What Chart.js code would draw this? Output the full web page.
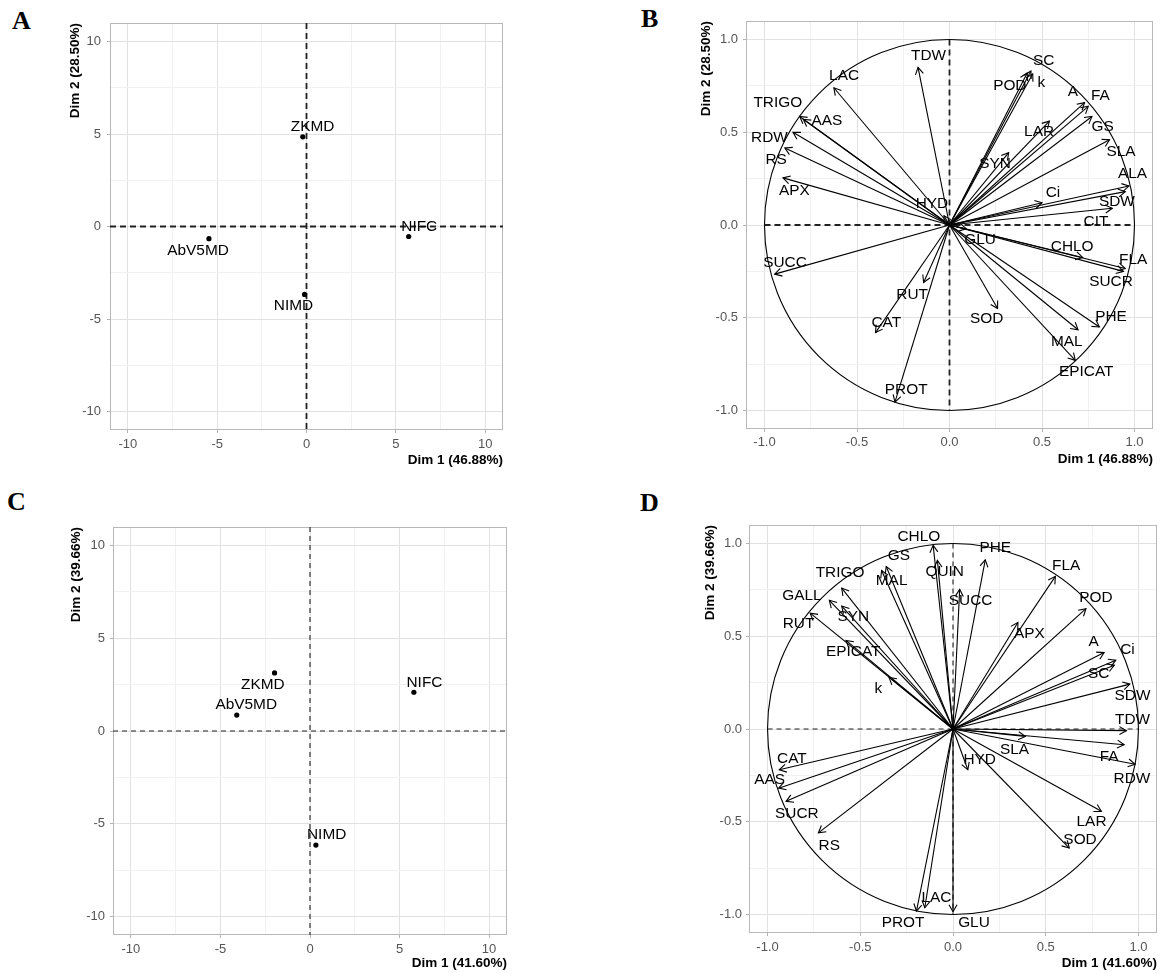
<!DOCTYPE html>
<html>
<head>
<meta charset="utf-8">
<script src="https://cdn.jsdelivr.net/npm/chart.js@4.4.0/dist/chart.umd.min.js"></script>
<style>
  body { margin: 0; background: #fff; width: 1161px; height: 973px; position: relative; overflow: hidden; }
  canvas { position: absolute; }
  .tag { position: absolute; font: bold 26px "Liberation Serif", "Times New Roman", serif; line-height: 1; color: #000; }
</style>
</head>
<body>
<div class="tag" style="left:12px;top:8px">A</div>
<div class="tag" style="left:641px;top:6px">B</div>
<div class="tag" style="left:7px;top:489px">C</div>
<div class="tag" style="left:640px;top:490px">D</div>

<canvas id="pa" width="540" height="480" style="left:0;top:0"></canvas>
<canvas id="pb" width="621" height="480" style="left:540px;top:0"></canvas>
<canvas id="pc" width="540" height="493" style="left:0;top:480px"></canvas>
<canvas id="pd" width="621" height="493" style="left:540px;top:480px"></canvas>

<script>
// ---- grid / tick values
var ticksInd = [-10, -7.5, -5, -2.5, 0, 2.5, 5, 7.5, 10];
var ticksVar = [-1, -0.75, -0.5, -0.25, 0, 0.25, 0.5, 0.75, 1];

// ---- panel A : individuals (Dim 1 46.88%, Dim 2 28.50%)
var indA = ['ZKMD', 'NIFC', 'AbV5MD', 'NIMD'];
var dim1A = [-0.21, 5.72, -5.46, -0.11];
var dim2A = [4.85, -0.54, -0.66, -3.67];
var labXA = [0.34, 6.31, -6.07, -0.73];
var labYA = [5.39, 0.0, -1.33, -4.31];

// ---- panel C : individuals (Dim 1 41.60%, Dim 2 39.66%)
var indC = ['ZKMD', 'AbV5MD', 'NIFC', 'NIMD'];
var dim1C = [-1.98, -4.09, 5.80, 0.33];
var dim2C = [3.13, 0.86, 2.09, -6.15];
var labXC = [-2.63, -3.56, 6.39, 0.93];
var labYC = [2.48, 1.40, 2.62, -5.57];

// ---- panel B : variables
var varsB = ['TDW', 'LAC', 'TRIGO', 'AAS', 'RDW', 'RS', 'APX', 'HYD', 'SC', 'POD', 'k',
             'A', 'FA', 'GS', 'LAR', 'SYN', 'SLA', 'ALA', 'SDW', 'Ci', 'CIT', 'GLU',
             'CHLO', 'FLA', 'SUCR', 'SUCC', 'RUT', 'CAT', 'SOD', 'PHE', 'MAL', 'EPICAT', 'PROT'];
var dim1B = [-0.17, -0.625, -0.81, -0.79, -0.846, -0.89, -0.90, -0.03, 0.44, 0.42, 0.45,
             0.73, 0.75, 0.77, 0.54, 0.32, 0.865, 0.97, 0.95, 0.50, 0.88, 0.09,
             0.72, 0.95, 0.94, -0.945, -0.14, -0.40, 0.26, 0.81, 0.695, 0.68, -0.295];
var dim2B = [0.85, 0.74, 0.585, 0.57, 0.50, 0.415, 0.254, 0.05, 0.83, 0.82, 0.815,
             0.66, 0.64, 0.585, 0.56, 0.39, 0.46, 0.21, 0.18, 0.12, 0.09, -0.02,
             -0.175, -0.235, -0.25, -0.265, -0.31, -0.58, -0.45, -0.55, -0.565, -0.73, -0.955];
var labXB = [-0.113, -0.570, -0.928, -0.663, -0.973, -0.937, -0.839, -0.095, 0.509, 0.326, 0.497,
             0.667, 0.816, 0.828, 0.484, 0.246, 0.927, 0.989, 0.905, 0.559, 0.792, 0.165,
             0.663, 0.993, 0.873, -0.889, -0.202, -0.342, 0.201, 0.873, 0.634, 0.739, -0.234];
var labYB = [0.911, 0.804, 0.660, 0.562, 0.472, 0.351, 0.185, 0.117, 0.888, 0.750, 0.768,
             0.718, 0.696, 0.530, 0.503, 0.329, 0.395, 0.275, 0.128, 0.176, 0.019, -0.078,
             -0.119, -0.185, -0.308, -0.203, -0.375, -0.528, -0.508, -0.496, -0.630, -0.791, -0.886];

// ---- panel D : variables
var varsD = ['CHLO', 'GS', 'MAL', 'TRIGO', 'GALL', 'SYN', 'RUT', 'EPICAT', 'k', 'QUIN', 'SUCC',
             'PHE', 'FLA', 'POD', 'APX', 'A', 'Ci', 'SC', 'SDW', 'TDW', 'FA', 'RDW',
             'SLA', 'HYD', 'LAR', 'SOD', 'GLU', 'LAC', 'PROT', 'CAT', 'AAS', 'SUCR', 'RS'];
var dim1D = [-0.107, -0.36, -0.385, -0.60, -0.667, -0.60, -0.77, -0.577, -0.345, -0.084, 0.036,
             0.174, 0.552, 0.717, 0.35, 0.815, 0.878, 0.87, 0.954, 0.935, 0.923, 0.982,
             0.39, 0.08, 0.80, 0.627, 0.0, -0.152, -0.197, -0.937, -0.94, -0.90, -0.726];
var dim2D = [0.99, 0.876, 0.855, 0.76, 0.694, 0.663, 0.625, 0.478, 0.278, 0.909, 0.753,
             0.912, 0.823, 0.649, 0.574, 0.412, 0.371, 0.344, 0.242, -0.009, -0.085, -0.19,
             -0.04, -0.22, -0.444, -0.642, -0.985, -0.964, -0.982, -0.22, -0.319, -0.39, -0.56];
var labXD = [-0.184, -0.292, -0.331, -0.609, -0.815, -0.538, -0.833, -0.538, -0.403, -0.045, 0.095,
             0.228, 0.610, 0.771, 0.412, 0.758, 0.941, 0.785, 0.968, 0.968, 0.842, 0.965,
             0.332, 0.144, 0.747, 0.685, 0.113, -0.089, -0.269, -0.869, -0.989, -0.842, -0.667];
var labYD = [1.034, 0.932, 0.801, 0.840, 0.720, 0.604, 0.568, 0.416, 0.219, 0.846, 0.690,
             0.975, 0.882, 0.706, 0.511, 0.469, 0.425, 0.299, 0.179, 0.048, -0.152, -0.270,
             -0.113, -0.167, -0.502, -0.597, -1.045, -0.910, -1.045, -0.163, -0.274, -0.459, -0.627];

var FONT = '"Liberation Sans", Arial, sans-serif';

function isMajor(v, major) {
    return Math.abs(Math.round(v / major) * major - v) < 1e-9;
}

/**
 * One axis in ggplot theme_light look.
 */
function makeAxis(pos, lim, ticks, major, digits, title, size, tickPad, titlePad) {
    return {
        type: 'linear',
        position: pos,
        min: -lim,
        max: lim,
        afterBuildTicks: function(s) {
            s.ticks = ticks.map(function(v) { return {value: v}; });
        },
        afterFit: function(s) {
            if (pos === 'left') s.width = size; else s.height = size;
        },
        border: {display: false},
        grid: {
            color: function(c) { return isMajor(c.tick.value, major) ? '#e1e1e1' : '#f1f1f1'; },
            lineWidth: 1,
            tickLength: 3,
            tickColor: function(c) { return isMajor(c.tick.value, major) ? '#b3b3b3' : 'rgba(0,0,0,0)'; }
        },
        ticks: {
            autoSkip: false,
            maxRotation: 0,
            padding: tickPad,
            color: '#555',
            font: {family: FONT, size: 13},
            callback: function(v) {
                if (!isMajor(v, major)) return '';
                return digits ? v.toFixed(digits) : String(v);
            }
        },
        title: {
            display: true,
            text: title,
            align: 'end',
            color: '#000',
            font: {family: FONT, size: 13.5, weight: 'bold'},
            padding: pos === 'left' ? {top: titlePad, bottom: 0} : {top: 0, bottom: titlePad}
        }
    };
}

// border, circle, dashed lines, arrow heads and labels
function decor(cfg) {
    return {
        id: 'decor',
        beforeDatasetsDraw: function(chart) {
            var ctx = chart.ctx, a = chart.chartArea;
            var x = chart.scales.x, y = chart.scales.y;
            ctx.save();
            ctx.strokeStyle = '#b8b8b8';
            ctx.lineWidth = 1;
            ctx.strokeRect(a.left + 0.5, a.top + 0.5, a.right - a.left - 1, a.bottom - a.top - 1);
            var x0 = x.getPixelForValue(0), y0 = y.getPixelForValue(0);
            var xa = a.left, xb = a.right, ya = a.top, yb = a.bottom;
            if (cfg.circle) {
                ctx.beginPath();
                ctx.ellipse(x0, y0, x.getPixelForValue(1) - x0, y0 - y.getPixelForValue(1), 0, 0, Math.PI * 2);
                ctx.strokeStyle = '#000';
                ctx.lineWidth = 1.1;
                ctx.stroke();
                xa = x.getPixelForValue(-1); xb = x.getPixelForValue(1);
                ya = y.getPixelForValue(1); yb = y.getPixelForValue(-1);
            }
            ctx.setLineDash(cfg.dash);
            ctx.lineWidth = cfg.dashWidth;
            ctx.strokeStyle = '#222';
            ctx.beginPath();
            ctx.moveTo(xa, y0); ctx.lineTo(xb, y0);
            ctx.moveTo(x0, ya); ctx.lineTo(x0, yb);
            ctx.stroke();
            ctx.restore();
        },
        afterDatasetsDraw: function(chart) {
            var ctx = chart.ctx;
            var x = chart.scales.x, y = chart.scales.y;
            ctx.save();
            if (cfg.arrows) {
                ctx.strokeStyle = '#000';
                ctx.lineWidth = 1.1;
                chart.data.datasets.forEach(function(ds, i) {
                    var pts = chart.getDatasetMeta(i).data;
                    var p0 = pts[0], p1 = pts[1];
                    var ang = Math.atan2(p1.y - p0.y, p1.x - p0.x);
                    var len = 8;
                    ctx.beginPath();
                    ctx.moveTo(p1.x - len * Math.cos(ang - Math.PI / 6), p1.y - len * Math.sin(ang - Math.PI / 6));
                    ctx.lineTo(p1.x, p1.y);
                    ctx.lineTo(p1.x - len * Math.cos(ang + Math.PI / 6), p1.y - len * Math.sin(ang + Math.PI / 6));
                    ctx.stroke();
                });
            }
            ctx.fillStyle = '#000';
            ctx.font = '15.4px ' + FONT;
            ctx.textAlign = 'center';
            ctx.textBaseline = 'middle';
            cfg.text.forEach(function(t, i) {
                ctx.fillText(t, x.getPixelForValue(cfg.lx[i]), y.getPixelForValue(cfg.ly[i]));
            });
            ctx.restore();
        }
    };
}

function pointSet(xs, ys) {
    return [{
        data: xs.map(function(v, i) { return {x: v, y: ys[i]}; }),
        pointRadius: 2.6,
        pointBackgroundColor: '#000',
        pointBorderWidth: 0,
        showLine: false
    }];
}

function arrowSets(names, xs, ys) {
    return names.map(function(n, i) {
        return {
            label: n,
            data: [{x: 0, y: 0}, {x: xs[i], y: ys[i]}],
            showLine: true,
            borderColor: '#000',
            borderWidth: 1.1,
            pointRadius: 0
        };
    });
}

/**
 * lay: [yAxisWidth, padTop, padRight, xAxisHeight, yTickPad, xTickPad, yTitlePad, xTitlePad]
 */
function drawPanel(id, datasets, lim, ticks, major, digits, xTitle, yTitle, lay, deco) {
    new Chart(document.getElementById(id), {
        type: 'scatter',
        data: {datasets: datasets},
        options: {
            responsive: false,
            animation: false,
            events: [],
            layout: {padding: {left: 0, top: lay[1], right: lay[2], bottom: 0}},
            plugins: {legend: {display: false}, tooltip: {enabled: false}},
            scales: {
                x: makeAxis('bottom', lim, ticks, major, digits, xTitle, lay[3], lay[5], lay[7]),
                y: makeAxis('left', lim, ticks, major, digits, yTitle, lay[0], lay[4], lay[6])
            }
        },
        plugins: [decor(deco)]
    });
}

drawPanel('pa', pointSet(dim1A, dim2A), 11, ticksInd, 5, 0,
    'Dim 1 (46.88%)', 'Dim 2 (28.50%)',
    [110, 23, 37, 50, 6, 4, 67, 12],
    {circle: false, arrows: false, dash: [6, 4], dashWidth: 1.8, text: indA, lx: labXA, ly: labYA});

drawPanel('pb', arrowSets(varsB, dim1B, dim2B), 1.1, ticksVar, 0.5, 1,
    'Dim 1 (46.88%)', 'Dim 2 (28.50%)',
    [206, 21, 8, 51, 5, 3, 158, 13],
    {circle: true, arrows: true, dash: [6, 4], dashWidth: 1.8, text: varsB, lx: labXB, ly: labYB});

drawPanel('pc', pointSet(dim1C, dim2C), 11, ticksInd, 5, 0,
    'Dim 1 (41.60%)', 'Dim 2 (39.66%)',
    [113, 47, 33, 38, 5, 4, 68, 2],
    {circle: false, arrows: false, dash: [5, 4], dashWidth: 1.1, text: indC, lx: labXC, ly: labYC});

drawPanel('pd', arrowSets(varsD, dim1D, dim2D), 1.1, ticksVar, 0.5, 1,
    'Dim 1 (41.60%)', 'Dim 2 (39.66%)',
    [209, 45, 4, 40, 4, 4, 162, 2],
    {circle: true, arrows: true, dash: [5, 4], dashWidth: 1.1, text: varsD, lx: labXD, ly: labYD});
</script>
</body>
</html>
